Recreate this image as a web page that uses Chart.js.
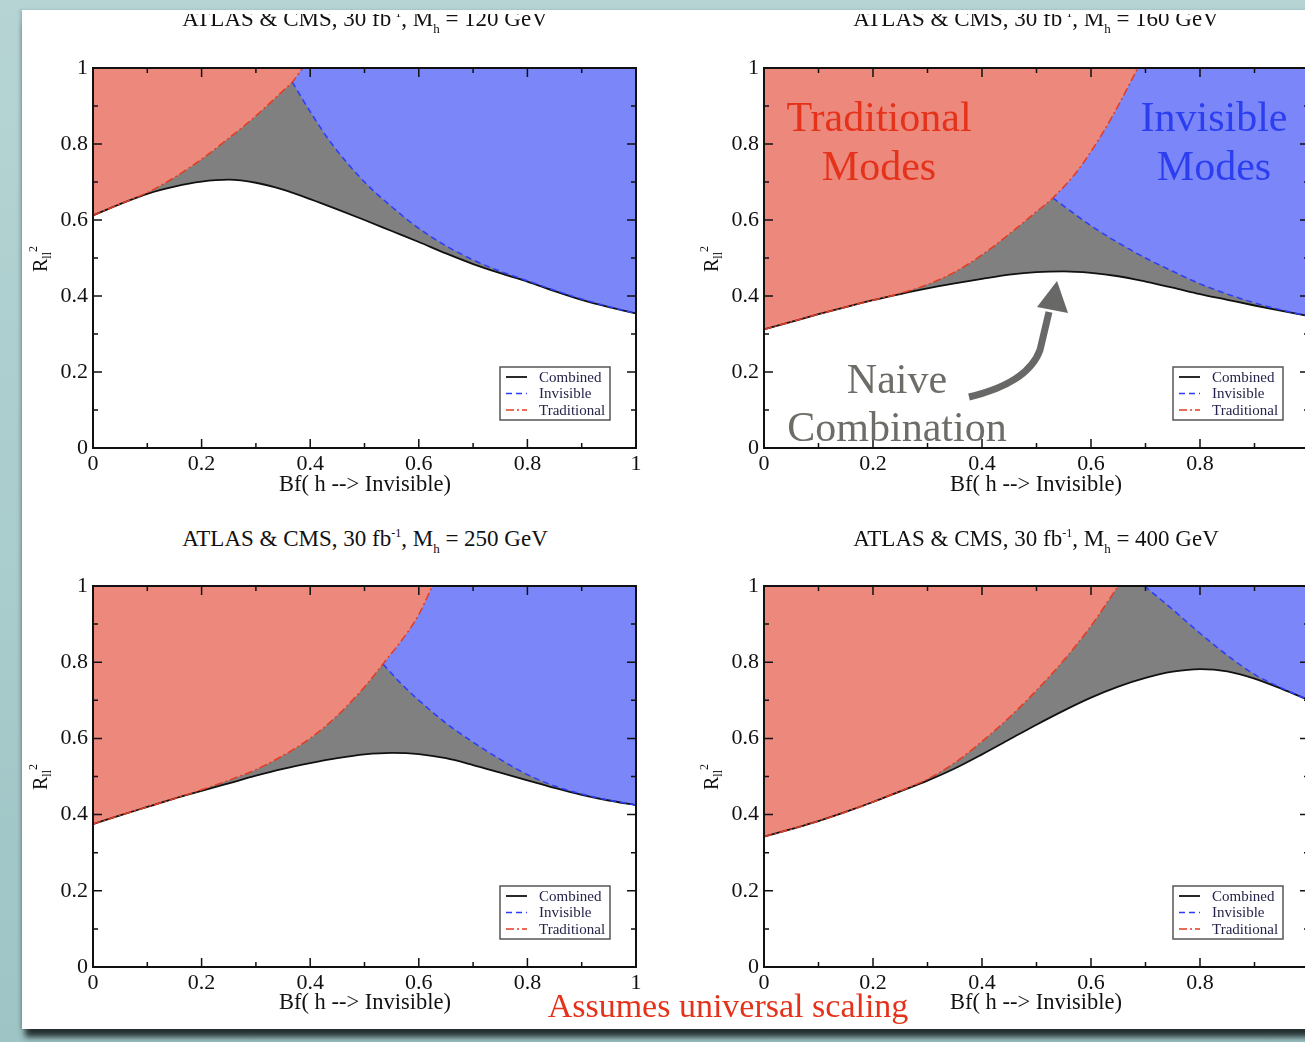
<!DOCTYPE html>
<html lang="en">
<head>
<meta charset="UTF-8">
<meta name="viewport" content="width=device-width, initial-scale=1.0">
<title>ATLAS &amp; CMS, 30 fb-1: Bf(h --&gt; Invisible)</title>
<script src="https://cdn.jsdelivr.net/npm/chart.js"></script>
<style>
    html, body { margin: 0; padding: 0; }
    body {
        width: 1305px;
        height: 1042px;
        overflow: hidden;
        position: relative;
        background: linear-gradient(180deg, #b6d4d4 0%, #a9cccc 55%, #9ec4c5 100%);
        font-family: "Liberation Serif", "Times New Roman", serif;
        color: #111;
    }
    .paper {
        position: absolute;
        left: 22px;
        top: 10px;
        width: 1320px;
        height: 1019px;
        background: #fff;
        box-shadow: 0 11px 6px -3px rgba(30, 40, 40, 0.95), -2px 0 3px rgba(0, 0, 0, 0.15);
    }
    canvas { position: absolute; }
    .t { position: absolute; white-space: nowrap; line-height: 1; transform: translateX(-50%); }
    .title { font-size: 23px; }
    .title sup, .title sub { line-height: 0; vertical-align: baseline; position: relative; }
    .title sup { font-size: 12px; top: -9px; }
    .title sub { font-size: 13px; top: 7px; }
    .axis { font-size: 22.5px; }
    .ylab {
        position: absolute;
        font-size: 20px;
        line-height: 1;
        white-space: nowrap;
        transform: translate(-50%, -50%) rotate(-90deg);
    }
    .ylab sub, .ylab sup { font-size: 12px; line-height: 0; vertical-align: baseline; position: relative; }
    .ylab sub { top: 4px; }
    .ylab sup { top: -10px; }
    .clip { position: absolute; left: 0; top: 14px; width: 1305px; height: 30px; overflow: hidden; }
    .big { font-size: 42px; }
    .red { color: #e5321b; }
    .blue { color: #2c3ff0; }
    .grey { color: #6d6d68; }
    .note { font-size: 34px; }
    svg { position: absolute; left: 0; top: 0; }
</style>
</head>
<body>
<div class="paper"></div>

<canvas id="p120" width="700" height="440" style="left:0px; top:40px"></canvas>
<canvas id="p160" width="702" height="440" style="left:671px; top:40px"></canvas>
<canvas id="p250" width="700" height="441" style="left:0px; top:558px"></canvas>
<canvas id="p400" width="702" height="441" style="left:671px; top:558px"></canvas>

<!-- panel titles (top row is cut by the page edge) -->
<div class="clip">
    <div class="t title" style="left:365px; top:-7px">ATLAS &amp; CMS, 30 fb<sup>-1</sup>, M<sub>h</sub> = 120 GeV</div>
    <div class="t title" style="left:1036px; top:-7px">ATLAS &amp; CMS, 30 fb<sup>-1</sup>, M<sub>h</sub> = 160 GeV</div>
</div>
<div class="t title" style="left:365px; top:527px">ATLAS &amp; CMS, 30 fb<sup>-1</sup>, M<sub>h</sub> = 250 GeV</div>
<div class="t title" style="left:1036px; top:527px">ATLAS &amp; CMS, 30 fb<sup>-1</sup>, M<sub>h</sub> = 400 GeV</div>

<!-- axis titles -->
<div class="t axis" style="left:365px; top:473px">Bf( h --&gt; Invisible)</div>
<div class="t axis" style="left:1036px; top:473px">Bf( h --&gt; Invisible)</div>
<div class="t axis" style="left:365px; top:991px">Bf( h --&gt; Invisible)</div>
<div class="t axis" style="left:1036px; top:991px">Bf( h --&gt; Invisible)</div>

<div class="ylab" style="left:40px; top:259px">R<sub>ll</sub><sup>2</sup></div>
<div class="ylab" style="left:711px; top:259px">R<sub>ll</sub><sup>2</sup></div>
<div class="ylab" style="left:40px; top:777px">R<sub>ll</sub><sup>2</sup></div>
<div class="ylab" style="left:711px; top:777px">R<sub>ll</sub><sup>2</sup></div>

<!-- annotations -->
<div class="t big red" style="left:879px; top:96px">Traditional</div>
<div class="t big red" style="left:879px; top:145px">Modes</div>
<div class="t big blue" style="left:1214px; top:96px">Invisible</div>
<div class="t big blue" style="left:1214px; top:145px">Modes</div>
<div class="t big grey" style="left:897px; top:358px">Naive</div>
<div class="t big grey" style="left:897px; top:406px">Combination</div>
<svg width="1305" height="1042">
    <path d="M 969 397 Q 1028 383 1040 350 L 1049 312" fill="none" stroke="#686866" stroke-width="7"/>
    <polygon points="1057,281 1037,307 1068,313" fill="#686866"/>
</svg>
<div class="t note red" style="left:728px; top:989px">Assumes universal scaling</div>

<script>
    // Bf(h -> invisible) grid for the combined curves
    const bfGrid = [0, 0.05, 0.1, 0.15, 0.2, 0.25, 0.3, 0.35, 0.4, 0.45, 0.5,
                    0.55, 0.6, 0.65, 0.7, 0.75, 0.8, 0.85, 0.9, 0.95, 1];

    // M_h = 120 GeV
    const combined120 = [0.612, 0.642, 0.669, 0.688, 0.701, 0.706, 0.698, 0.680, 0.655, 0.628, 0.600,
                         0.571, 0.542, 0.512, 0.484, 0.460, 0.438, 0.413, 0.390, 0.371, 0.354];
    const tradBf120 = [0, 0.05, 0.1, 0.15, 0.2, 0.25, 0.3, 0.35, 0.367, 0.386];
    const tradR120  = [0.612, 0.642, 0.672, 0.712, 0.760, 0.815, 0.874, 0.940, 0.963, 1.0];
    const invBf120 = [0.367, 0.4, 0.44, 0.5, 0.55, 0.6, 0.65, 0.7, 0.75, 0.8, 0.85, 0.9, 0.95, 1];
    const invR120  = [0.963, 0.885, 0.800, 0.700, 0.635, 0.578, 0.532, 0.495, 0.465, 0.440, 0.415, 0.392, 0.372, 0.354];

    // M_h = 160 GeV
    const combined160 = [0.312, 0.332, 0.352, 0.371, 0.389, 0.405, 0.420, 0.433, 0.445, 0.456, 0.463,
                         0.465, 0.461, 0.452, 0.438, 0.422, 0.405, 0.390, 0.375, 0.361, 0.347];
    const tradBf160 = [0, 0.1, 0.2, 0.25, 0.3, 0.35, 0.4, 0.45, 0.5, 0.53, 0.57, 0.6, 0.64, 0.686];
    const tradR160  = [0.312, 0.352, 0.389, 0.407, 0.430, 0.463, 0.508, 0.563, 0.622, 0.658, 0.720, 0.780, 0.875, 1.0];
    const invBf160 = [0.53, 0.6, 0.65, 0.7, 0.75, 0.8, 0.85, 0.9, 0.95, 1];
    const invR160  = [0.658, 0.585, 0.540, 0.500, 0.465, 0.432, 0.405, 0.382, 0.363, 0.347];

    // M_h = 250 GeV
    const combined250 = [0.375, 0.398, 0.420, 0.442, 0.462, 0.482, 0.502, 0.520, 0.535, 0.548, 0.558,
                         0.562, 0.559, 0.548, 0.530, 0.510, 0.490, 0.470, 0.452, 0.437, 0.425];
    const tradBf250 = [0, 0.05, 0.1, 0.15, 0.2, 0.25, 0.3, 0.35, 0.4, 0.45, 0.5, 0.534, 0.58, 0.6, 0.625];
    const tradR250  = [0.375, 0.398, 0.420, 0.442, 0.465, 0.490, 0.518, 0.555, 0.600, 0.660, 0.735, 0.795, 0.880, 0.925, 1.0];
    const invBf250 = [0.534, 0.57, 0.6, 0.65, 0.7, 0.75, 0.8, 0.85, 0.9, 0.95, 1];
    const invR250  = [0.795, 0.740, 0.700, 0.640, 0.590, 0.545, 0.505, 0.475, 0.454, 0.438, 0.425];

    // M_h = 400 GeV
    const combined400 = [0.342, 0.362, 0.383, 0.407, 0.433, 0.461, 0.489, 0.521, 0.558, 0.597, 0.636,
                         0.673, 0.707, 0.736, 0.759, 0.775, 0.782, 0.776, 0.757, 0.730, 0.700];
    const tradBf400 = [0, 0.05, 0.1, 0.15, 0.2, 0.25, 0.3, 0.35, 0.4, 0.45, 0.5, 0.55, 0.6, 0.65];
    const tradR400  = [0.342, 0.362, 0.383, 0.407, 0.433, 0.462, 0.493, 0.536, 0.592, 0.655, 0.726, 0.805, 0.895, 1.0];
    const invBf400 = [0.698, 0.75, 0.8, 0.85, 0.9, 0.95, 1];
    const invR400  = [1.0, 0.938, 0.876, 0.818, 0.768, 0.732, 0.700];

    const SERIF = '"Liberation Serif", "Times New Roman", serif';

    function pts(xs, ys) {
        return xs.map((x, i) => ({ x: x, y: ys[i] }));
    }

    function tickText(v) {
        return String(Math.round(v * 10) / 10);
    }

    // box frame with inward ticks on all four sides
    const frameTicks = {
        id: 'frameTicks',
        afterDatasetsDraw(chart) {
            const { ctx, chartArea: a } = chart;
            const x = chart.scales.x, y = chart.scales.y;
            ctx.save();
            ctx.strokeStyle = '#111';
            ctx.lineWidth = 1.5;
            ctx.beginPath();
            for (let k = 0; k <= 10; k++) {
                const len = k % 2 ? 5 : 9;
                const px = x.getPixelForValue(k / 10);
                const py = y.getPixelForValue(k / 10);
                ctx.moveTo(px, a.bottom); ctx.lineTo(px, a.bottom - len);
                ctx.moveTo(px, a.top); ctx.lineTo(px, a.top + len);
                ctx.moveTo(a.left, py); ctx.lineTo(a.left + len, py);
                ctx.moveTo(a.right, py); ctx.lineTo(a.right - len, py);
            }
            ctx.stroke();
            ctx.lineWidth = 2;
            ctx.strokeRect(a.left, a.top, a.right - a.left, a.bottom - a.top);
            ctx.restore();
        }
    };

    // small boxed legend in the lower right corner of the plot
    const boxLegend = {
        id: 'boxLegend',
        afterDraw(chart) {
            const { ctx, chartArea: a } = chart;
            const w = 110, h = 53;
            const bx = a.right - 26 - w, by = a.bottom - 28 - h;
            ctx.save();
            ctx.fillStyle = '#fff';
            ctx.fillRect(bx, by, w, h);
            ctx.strokeStyle = '#555';
            ctx.lineWidth = 1.5;
            ctx.strokeRect(bx, by, w, h);
            [2, 1, 0].forEach((di, i) => {
                const ds = chart.data.datasets[di];
                const ly = by + 10 + i * 16.5;
                ctx.beginPath();
                ctx.setLineDash(ds.borderDash || []);
                ctx.strokeStyle = ds.borderColor;
                ctx.lineWidth = ds.borderWidth;
                ctx.moveTo(bx + 6, ly);
                ctx.lineTo(bx + 27, ly);
                ctx.stroke();
                ctx.setLineDash([]);
                ctx.fillStyle = '#24244a';
                ctx.font = '15px ' + SERIF;
                ctx.textBaseline = 'middle';
                ctx.fillText(ds.label, bx + 39, ly + 1);
            });
            ctx.restore();
        }
    };

    function makePanel(id, combined, tradBf, tradR, invBf, invR) {
        const tickOpts = {
            stepSize: 0.2,
            autoSkip: false,
            maxRotation: 0,
            color: '#111',
            font: { family: SERIF, size: 22 },
            callback: tickText
        };
        return new Chart(document.getElementById(id), {
            type: 'line',
            data: {
                datasets: [
                    {
                        label: 'Traditional',
                        data: pts(tradBf, tradR),
                        borderColor: '#e23c22',
                        borderDash: [8, 3, 2, 3],
                        borderWidth: 1.5,
                        backgroundColor: '#ec887c',
                        fill: 'end'
                    },
                    {
                        label: 'Invisible',
                        data: pts(invBf, invR),
                        borderColor: '#2a3cff',
                        borderDash: [6, 4],
                        borderWidth: 1.5,
                        backgroundColor: '#7b86f8',
                        fill: 'end'
                    },
                    {
                        label: 'Combined',
                        data: pts(bfGrid, combined),
                        borderColor: '#111',
                        borderWidth: 1.8,
                        backgroundColor: '#808080',
                        fill: 'end'
                    }
                ]
            },
            options: {
                responsive: false,
                animation: false,
                events: [],
                elements: {
                    point: { radius: 0 },
                    line: { cubicInterpolationMode: 'monotone' }
                },
                layout: { padding: { top: 28, right: 64, left: 0, bottom: 0 } },
                plugins: {
                    legend: { display: false },
                    tooltip: { enabled: false },
                    filler: { drawTime: 'beforeDatasetsDraw' }
                },
                scales: {
                    x: {
                        type: 'linear',
                        min: 0,
                        max: 1,
                        grid: { display: false, drawTicks: false },
                        border: { display: false },
                        ticks: Object.assign({ padding: 3 }, tickOpts),
                        afterFit(scale) { scale.height = 32; }
                    },
                    y: {
                        type: 'linear',
                        min: 0,
                        max: 1,
                        grid: { display: false, drawTicks: false },
                        border: { display: false },
                        ticks: Object.assign({ padding: 5 }, tickOpts),
                        afterFit(scale) { scale.width = 93; }
                    }
                }
            },
            plugins: [frameTicks, boxLegend]
        });
    }

    makePanel('p120', combined120, tradBf120, tradR120, invBf120, invR120);
    makePanel('p160', combined160, tradBf160, tradR160, invBf160, invR160);
    makePanel('p250', combined250, tradBf250, tradR250, invBf250, invR250);
    makePanel('p400', combined400, tradBf400, tradR400, invBf400, invR400);
</script>
</body>
</html>
